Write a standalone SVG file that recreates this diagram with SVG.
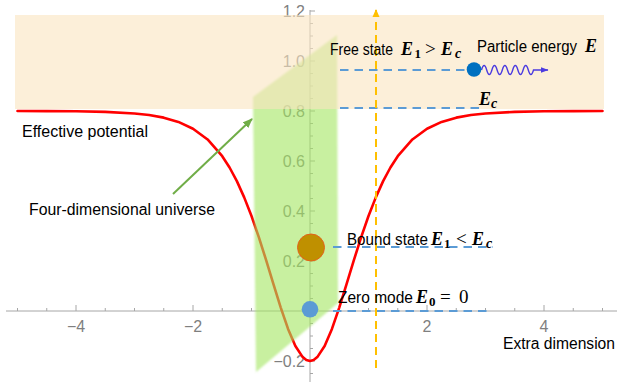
<svg xmlns="http://www.w3.org/2000/svg" width="623" height="382" viewBox="0 0 623 382">
<style>
.ax{stroke:#a6a6a6;stroke-width:1;fill:none}
.tl{font-family:"Liberation Sans",Arial,sans-serif;font-size:16px;fill:#7f7f7f}
.lb{font-family:"Liberation Sans",Arial,sans-serif;font-size:16px;fill:#000}
.m{font-family:"Liberation Serif","Times New Roman",serif;font-size:18px;font-weight:bold;font-style:italic;fill:#000}
.ms{font-family:"Liberation Serif","Times New Roman",serif;font-size:13px;font-weight:bold;fill:#000}
.msi{font-family:"Liberation Serif","Times New Roman",serif;font-size:14px;font-weight:bold;font-style:italic;fill:#000}
.mo{font-family:"Liberation Serif","Times New Roman",serif;font-size:19px;fill:#000}
.bd{stroke:#5b9bd5;stroke-width:2;stroke-dasharray:8.5 6;fill:none}
</style>
<defs>
<filter id="soft" x="-5%" y="-5%" width="110%" height="110%"><feGaussianBlur stdDeviation="0.8"/></filter>
<marker id="ag" markerWidth="10" markerHeight="8" refX="9" refY="4" orient="auto" markerUnits="userSpaceOnUse"><path d="M0,0 L10,4 L0,8 z" fill="#70ad47"/></marker>
<marker id="ao" markerWidth="8" markerHeight="8" refX="7" refY="4" orient="auto" markerUnits="userSpaceOnUse"><path d="M0,0.5 L8,4 L0,7.5 z" fill="#ffc000"/></marker>
<marker id="ap" markerWidth="8" markerHeight="6" refX="7.5" refY="3" orient="auto" markerUnits="userSpaceOnUse"><path d="M0,0 L8,3 L0,6 z" fill="#4b3be0"/></marker>
</defs>
<g id="axes">
<line class="ax" x1="6" y1="311" x2="617" y2="311"/>
<line class="ax" x1="310" y1="10" x2="310" y2="382"/>
<path class="ax" d="M17.5,311v-3M46.75,311v-3M76,311v-6M105.25,311v-3M134.5,311v-3M163.75,311v-3M193,311v-6M222.25,311v-3M251.5,311v-3M280.75,311v-3M339.25,311v-3M368.5,311v-3M397.75,311v-3M427,311v-6M456.25,311v-3M485.5,311v-3M514.75,311v-3M544,311v-6M573.25,311v-3M602.5,311v-3"/>
<path class="ax" d="M310,11h5M310,23.5h3M310,36h3M310,48.5h3M310,61h5M310,73.5h3M310,86h3M310,98.5h3M310,111h5M310,123.5h3M310,136h3M310,148.5h3M310,161h5M310,173.5h3M310,186h3M310,198.5h3M310,211h5M310,223.5h3M310,236h3M310,248.5h3M310,261h5M310,273.5h3M310,286h3M310,298.5h3M310,323.5h3M310,336h3M310,348.5h3M310,361h5M310,373.5h3"/>
<g class="tl" text-anchor="middle">
<text x="76" y="332">−4</text>
<text x="193" y="332">−2</text>
<text x="427" y="332">2</text>
<text x="544" y="332">4</text>
</g>
<g class="tl" text-anchor="end">
<text x="305" y="17">1.2</text>
<text x="305" y="67">1.0</text>
<text x="305" y="117">0.8</text>
<text x="305" y="167">0.6</text>
<text x="305" y="217">0.4</text>
<text x="305" y="267">0.2</text>
<text x="305" y="367">−0.2</text>
</g>
</g>
<g id="potential">
<polyline fill="none" stroke="#ff0000" stroke-width="2.6" stroke-linejoin="round" stroke-linecap="round" points="17.5,111.05 46.75,111.1 76,111.3 105.25,111.9 134.5,113.5 149.1,115.05 163.75,117.65 178.4,121.9 193,128.7 207.6,139.45 222.25,156.2 229.56,167.5 236.87,181.1 244.19,197.35 251.5,216 258.81,237.1 266.12,260.15 273.44,284.1 280.75,307.6 288.06,328.9 295.37,346 302.69,357.1 306.34,360 310,361 313.66,360 317.31,357.1 324.63,346 331.94,328.9 339.25,307.6 346.56,284.1 353.88,260.15 361.19,237.1 368.5,216 375.81,197.35 383.13,181.1 390.44,167.5 397.75,156.2 412.4,139.45 427,128.7 441.6,121.9 456.25,117.65 470.9,115.05 485.5,113.5 514.75,111.9 544,111.3 573.25,111.1 602.5,111.05"/>
</g>
<g id="universe">
<polygon points="253,97 337,35 338,303 256,372" fill="#a3e661" fill-opacity="0.6" filter="url(#soft)"/>
</g>
<g id="free-region">
<rect x="15" y="15" width="589" height="94" fill="#fae4c0" fill-opacity="0.6"/>
</g>
<g id="connectors">
<line class="bd" x1="340" y1="70" x2="467" y2="70"/>
<line class="bd" x1="340" y1="108" x2="480" y2="108"/>
<line class="bd" x1="333" y1="247" x2="493" y2="247"/>
<line class="bd" x1="333" y1="311" x2="490" y2="311"/>
<line x1="376" y1="368" x2="376" y2="10" stroke="#ffc000" stroke-width="2" stroke-dasharray="8 5" marker-end="url(#ao)"/>
<line x1="173" y1="194" x2="252" y2="119" stroke="#70ad47" stroke-width="2" marker-end="url(#ag)"/>
<path d="M481.5,70 q2.6,-9 5.2,0 t5.2,0 t5.2,0 t5.2,0 t5.2,0 t5.2,0 t5.2,0 t5.2,0 t5.2,0 t5.2,0 L548,70" fill="none" stroke="#4b3be0" stroke-width="1.4" marker-end="url(#ap)"/>
</g>
<g id="particle">
<circle cx="474" cy="69.5" r="7.3" fill="#0070c0"/>
</g>
<g id="bound-state">
<circle cx="311" cy="247.5" r="13.5" fill="#bf9000" stroke="#e4611a" stroke-width="1"/>
</g>
<g id="zero-mode">
<circle cx="310" cy="309.3" r="8.3" fill="#5b9bd5"/>
</g>
<g id="labels">
<text class="lb" x="330" y="55" textLength="63" lengthAdjust="spacingAndGlyphs">Free state</text>
<text class="m" x="401" y="55">E</text><text class="ms" x="414.5" y="57.5">1</text><text class="mo" x="425" y="55">&gt;</text><text class="m" x="441" y="55">E</text><text class="msi" x="455" y="58">c</text>
<text class="lb" x="22" y="137" textLength="126" lengthAdjust="spacingAndGlyphs">Effective potential</text>
<text class="lb" x="29" y="215" textLength="186" lengthAdjust="spacingAndGlyphs">Four-dimensional universe</text>
<text class="lb" x="503" y="349" textLength="112" lengthAdjust="spacingAndGlyphs">Extra dimension</text>
<text class="lb" x="477" y="52" textLength="100" lengthAdjust="spacingAndGlyphs">Particle energy</text>
<text class="m" x="585" y="52">E</text>
<text class="m" x="479" y="105">E</text><text class="msi" x="491" y="108">c</text>
<text class="lb" x="347" y="245" textLength="81" lengthAdjust="spacingAndGlyphs">Bound state</text>
<text class="m" x="431" y="245">E</text><text class="ms" x="444" y="247.5">1</text><text class="mo" x="456" y="245">&lt;</text><text class="m" x="472" y="245">E</text><text class="msi" x="486" y="248">c</text>
<text class="lb" x="338" y="303" textLength="75" lengthAdjust="spacingAndGlyphs">Zero mode</text>
<text class="m" x="416" y="303">E</text><text class="ms" x="429" y="305.5">0</text><text class="mo" x="440" y="303">=</text><text class="mo" x="459" y="303">0</text>
</g>
</svg>
